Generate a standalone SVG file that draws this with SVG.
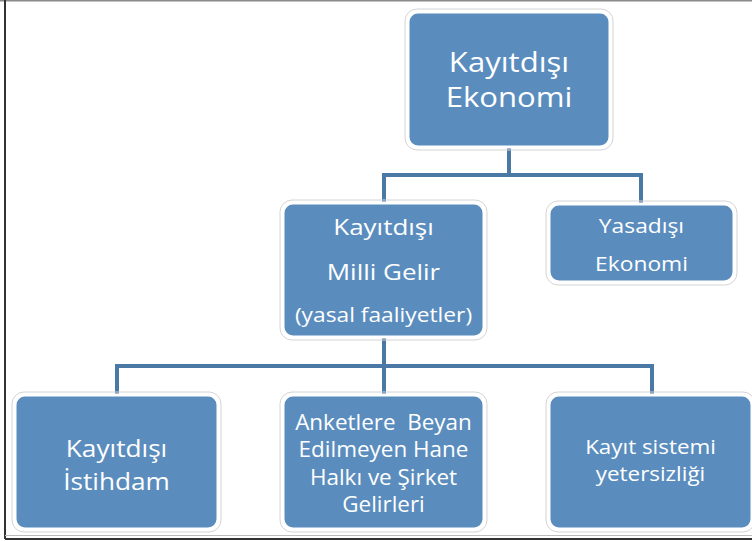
<svg xmlns="http://www.w3.org/2000/svg" width="752" height="541" viewBox="0 0 752 541">
<style>
.box{fill:#5A8DBE;stroke:#FFFFFF;stroke-width:3}
.halo{fill:none;stroke:#D4D4D4;stroke-width:1}
.t{fill:#FFFFFF;font-family:"Open Sans","Noto Sans","Liberation Sans",sans-serif;text-anchor:middle}
.c{fill:none;stroke:#4A79A5;stroke-width:4}
</style>
<rect x="0" y="0" width="752" height="541" fill="#FFFFFF"/>
<line x1="0" y1="0.5" x2="752" y2="0.5" stroke="#8A8A8A" stroke-width="2"/>
<line x1="5" y1="0" x2="5" y2="539" stroke="#333333" stroke-width="2"/>
<line x1="5" y1="535.5" x2="752" y2="535.5" stroke="#BBBBBB" stroke-width="1"/>
<line x1="5" y1="539" x2="752" y2="539" stroke="#333333" stroke-width="2"/>
<g id="connectors">
<path class="c" d="M509 147 V175 M384 203 V175 H641 V203"/>
<path class="c" d="M384 337 V366 M117 395 V366 H652 V395 M384 366 V395"/>
</g>
<g id="n1">
<rect class="halo" x="405" y="9" width="208" height="141" rx="12"/>
<rect class="box" x="408" y="12" width="202" height="135" rx="10"/>
<text class="t" font-size="28" transform="translate(509 0) scale(1.11 1)"><tspan x="0" y="72">Kayıtdışı</tspan><tspan x="0" y="107">Ekonomi</tspan></text>
</g>
<g id="n2">
<rect class="halo" x="280" y="200" width="207" height="140" rx="12"/>
<rect class="box" x="283" y="203" width="201" height="134" rx="10"/>
<text class="t" font-size="22" transform="translate(383.5 0) scale(1.18 1)"><tspan x="0" y="235">Kayıtdışı</tspan><tspan x="0" y="280">Milli Gelir</tspan><tspan x="0" y="322" font-size="19.3">(yasal faaliyetler)</tspan></text>
</g>
<g id="n3">
<rect class="halo" x="546" y="201" width="191" height="84" rx="12"/>
<rect class="box" x="549" y="204" width="185" height="78" rx="10"/>
<text class="t" font-size="20" transform="translate(641.5 0) scale(1.14 1)"><tspan x="0" y="233">Yasadışı</tspan><tspan x="0" y="271">Ekonomi</tspan></text>
</g>
<g id="n4">
<rect class="halo" x="12" y="392" width="209" height="140" rx="12"/>
<rect class="box" x="15" y="395" width="203" height="134" rx="10"/>
<text class="t" font-size="23" transform="translate(116.5 0) scale(1.14 1)"><tspan x="0" y="457">Kayıtdışı</tspan><tspan x="0" y="490">İstihdam</tspan></text>
</g>
<g id="n5">
<rect class="halo" x="280" y="392" width="207" height="140" rx="12"/>
<rect class="box" x="283" y="395" width="201" height="134" rx="10"/>
<text class="t" font-size="21" transform="translate(383.5 0) scale(1.07 1)"><tspan x="0" y="430" xml:space="preserve">Anketlere  Beyan</tspan><tspan x="0" y="457">Edilmeyen Hane</tspan><tspan x="0" y="485">Halkı ve Şirket</tspan><tspan x="0" y="512">Gelirleri</tspan></text>
</g>
<g id="n6">
<rect class="halo" x="546" y="392" width="209" height="140" rx="12"/>
<rect class="box" x="549" y="395" width="203" height="134" rx="10"/>
<text class="t" font-size="20" transform="translate(650.5 0) scale(1.12 1)"><tspan x="0" y="454">Kayıt sistemi</tspan><tspan x="0" y="481">yetersizliği</tspan></text>
</g>
</svg>
